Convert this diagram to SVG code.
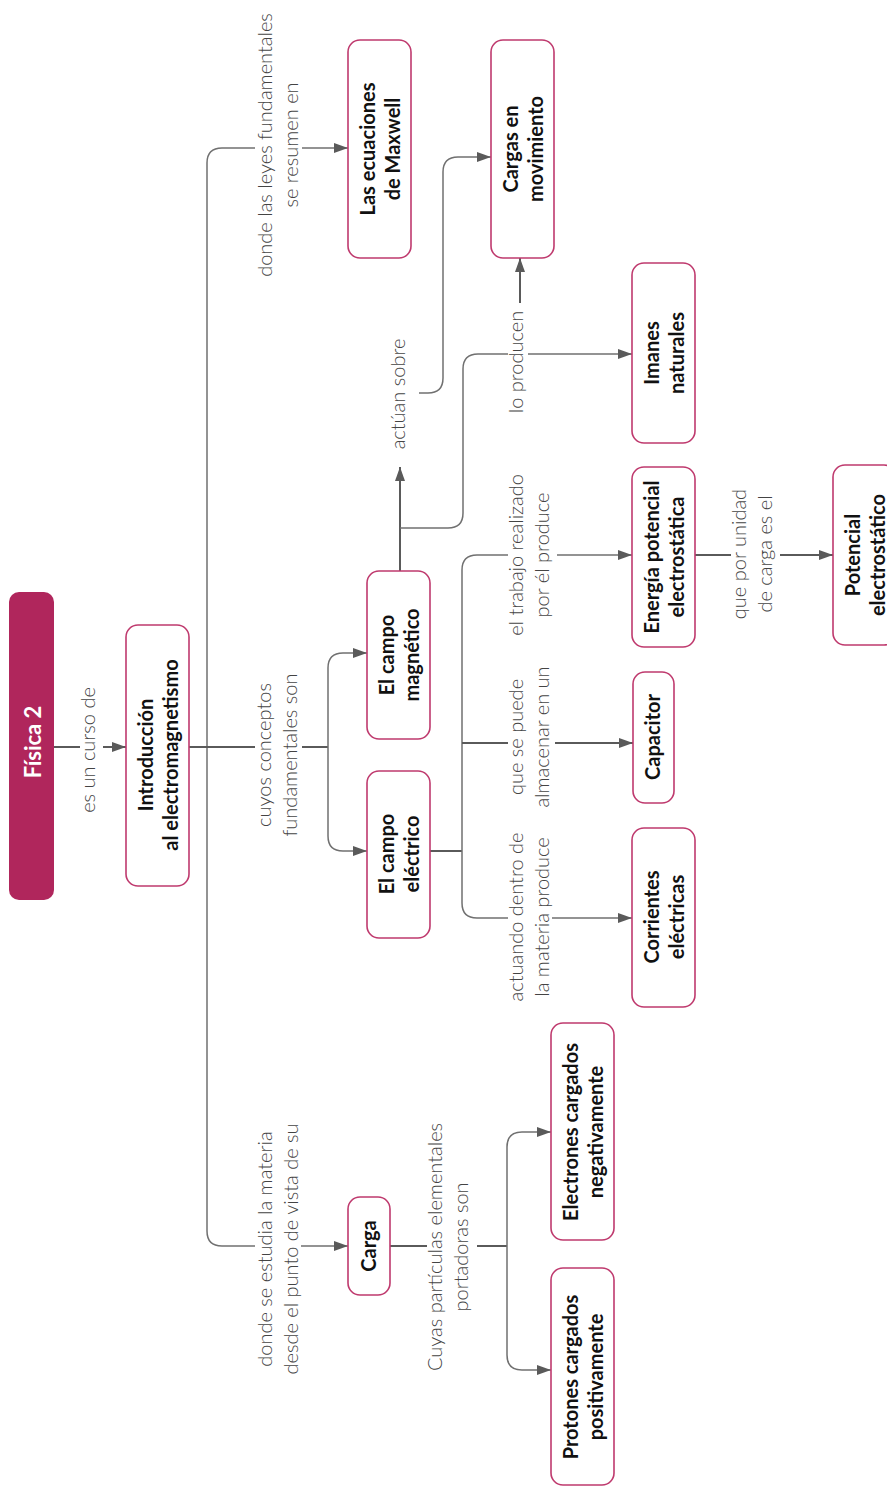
<svg xmlns="http://www.w3.org/2000/svg" width="887" height="1486" viewBox="0 0 887 1486">
<style>
.box{fill:#fff;stroke:#bf3a6e;stroke-width:1.6}
.nt{font-family:Lato,"Liberation Sans",sans-serif;font-weight:700;font-size:20px;fill:#111;text-anchor:middle}
.lb{font-family:Lato,"Liberation Sans",sans-serif;font-weight:300;font-size:20px;fill:#444;text-anchor:middle}
.c{fill:none;stroke:#707070;stroke-width:1.5}
.s{fill:none;stroke:#5a5a5a;stroke-width:2}
</style>
<defs>
<marker id="arr" markerWidth="14" markerHeight="10" refX="14" refY="5" orient="auto" markerUnits="userSpaceOnUse"><path d="M0,0 L14,5 L0,10 z" fill="#5a5a5a"/></marker>
</defs>
<rect width="887" height="1486" fill="#fff"/>
<g id="connectors">
<path class="s" d="M54,747 H80 M103,747 H126" marker-end="url(#arr)"/>
<path class="c" d="M207,747 V163 Q207,148 222,148 H255 M302,148 H348" marker-end="url(#arr)"/>
<path class="c" d="M207,747 V1231 Q207,1246 222,1246 H255 M301,1246 H348" marker-end="url(#arr)"/>
<path class="s" d="M189,747 H255 M302,747 H328"/>
<path class="c" d="M328,747 V668 Q328,653 343,653 H367" marker-end="url(#arr)"/>
<path class="c" d="M328,747 V836 Q328,851 343,851 H367" marker-end="url(#arr)"/>
<path class="s" d="M430,851 H462"/>
<path class="c" d="M462,851 V570 Q462,555 477,555 H508 M557,555 H632" marker-end="url(#arr)"/>
<path class="s" d="M462,743 H508 M555,743 H633" marker-end="url(#arr)"/>
<path class="c" d="M462,851 V903 Q462,918 477,918 H508 M552,918 H632" marker-end="url(#arr)"/>
<path class="s" d="M400,571 V467" marker-end="url(#arr)"/>
<path class="c" d="M419,393 H428 Q443,393 443,378 V172 Q443,157 458,157 H491" marker-end="url(#arr)"/>
<path class="c" d="M400,528 H448 Q463,528 463,513 V369 Q463,354 478,354 H508 M528,354 H632" marker-end="url(#arr)"/>
<path class="s" d="M520,303 V258" marker-end="url(#arr)"/>
<path class="s" d="M695,555 H731 M780,555 H833" marker-end="url(#arr)"/>
<path class="s" d="M390,1246 H427 M477,1246 H507"/>
<path class="c" d="M507,1246 V1147 Q507,1132 522,1132 H551" marker-end="url(#arr)"/>
<path class="c" d="M507,1246 V1355 Q507,1370 522,1370 H551" marker-end="url(#arr)"/>
</g>
<g id="labels">
<text class="lb" transform="translate(95,750) rotate(-90)">es un curso de</text>
<text class="lb" transform="translate(272,145) rotate(-90)"><tspan x="0" y="0">donde las leyes fundamentales</tspan><tspan x="0" y="26">se resumen en</tspan></text>
<text class="lb" transform="translate(271,755) rotate(-90)"><tspan x="0" y="0">cuyos conceptos</tspan><tspan x="0" y="26">fundamentales son</tspan></text>
<text class="lb" transform="translate(272,1249) rotate(-90)"><tspan x="0" y="0">donde se estudia la materia</tspan><tspan x="0" y="26">desde el punto de vista de su</tspan></text>
<text class="lb" transform="translate(442,1247) rotate(-90)"><tspan x="0" y="0">Cuyas partículas elementales</tspan><tspan x="0" y="26">portadoras son</tspan></text>
<text class="lb" transform="translate(405,394) rotate(-90)">actúan sobre</text>
<text class="lb" transform="translate(523,362) rotate(-90)">lo producen</text>
<text class="lb" transform="translate(523,555) rotate(-90)"><tspan x="0" y="0">el trabajo realizado</tspan><tspan x="0" y="26">por él produce</tspan></text>
<text class="lb" transform="translate(523,737) rotate(-90)"><tspan x="0" y="0">que se puede</tspan><tspan x="0" y="26">almacenar en un</tspan></text>
<text class="lb" transform="translate(523,917) rotate(-90)"><tspan x="0" y="0">actuando dentro de</tspan><tspan x="0" y="26">la materia produce</tspan></text>
<text class="lb" transform="translate(746,554) rotate(-90)"><tspan x="0" y="0">que por unidad</tspan><tspan x="0" y="26">de carga es el</tspan></text>
</g>
<g id="fisica2"><rect x="9" y="592" width="45" height="308" rx="10" fill="#b0265c"/><text class="nt" style="fill:#fff;font-size:22px" transform="translate(41,742) rotate(-90)">Física 2</text></g>
<g id="intro"><rect class="box" x="126" y="625" width="63" height="261" rx="12"/><text class="nt" transform="translate(157.5,755) rotate(-90)"><tspan x="0" y="-5">Introducción</tspan><tspan x="0" y="20">al electromagnetismo</tspan></text></g>
<g id="maxwell"><rect class="box" x="348" y="40" width="63" height="218" rx="12"/><text class="nt" transform="translate(379.5,149) rotate(-90)"><tspan x="0" y="-5">Las ecuaciones</tspan><tspan x="0" y="20">de Maxwell</tspan></text></g>
<g id="cargas-movimiento"><rect class="box" x="491" y="40" width="63" height="218" rx="12"/><text class="nt" transform="translate(522.5,149) rotate(-90)"><tspan x="0" y="-5">Cargas en</tspan><tspan x="0" y="20">movimiento</tspan></text></g>
<g id="imanes"><rect class="box" x="632" y="263" width="63" height="180" rx="12"/><text class="nt" transform="translate(663.5,353) rotate(-90)"><tspan x="0" y="-5">Imanes</tspan><tspan x="0" y="20">naturales</tspan></text></g>
<g id="energia"><rect class="box" x="632" y="467" width="63" height="180" rx="12"/><text class="nt" transform="translate(663.5,557) rotate(-90)"><tspan x="0" y="-5">Energía potencial</tspan><tspan x="0" y="20">electrostática</tspan></text></g>
<g id="potencial"><rect class="box" x="833" y="465" width="63" height="180" rx="12"/><text class="nt" transform="translate(864.5,555) rotate(-90)"><tspan x="0" y="-5">Potencial</tspan><tspan x="0" y="20">electrostático</tspan></text></g>
<g id="capacitor"><rect class="box" x="633" y="672" width="41" height="131" rx="12"/><text class="nt" transform="translate(660,737) rotate(-90)">Capacitor</text></g>
<g id="corrientes"><rect class="box" x="632" y="828" width="63" height="179" rx="12"/><text class="nt" transform="translate(663.5,917) rotate(-90)"><tspan x="0" y="-5">Corrientes</tspan><tspan x="0" y="20">eléctricas</tspan></text></g>
<g id="magnetico"><rect class="box" x="367" y="571" width="63" height="168" rx="12"/><text class="nt" transform="translate(398.5,655) rotate(-90)"><tspan x="0" y="-5">El campo</tspan><tspan x="0" y="20">magnético</tspan></text></g>
<g id="electrico"><rect class="box" x="367" y="771" width="63" height="167" rx="12"/><text class="nt" transform="translate(398.5,854) rotate(-90)"><tspan x="0" y="-5">El campo</tspan><tspan x="0" y="20">eléctrico</tspan></text></g>
<g id="carga"><rect class="box" x="348" y="1197" width="42" height="98" rx="12"/><text class="nt" transform="translate(376,1246) rotate(-90)">Carga</text></g>
<g id="electrones"><rect class="box" x="551" y="1023" width="63" height="217" rx="12"/><text class="nt" transform="translate(582.5,1132) rotate(-90)"><tspan x="0" y="-5">Electrones cargados</tspan><tspan x="0" y="20">negativamente</tspan></text></g>
<g id="protones"><rect class="box" x="551" y="1268" width="63" height="217" rx="12"/><text class="nt" transform="translate(582.5,1377) rotate(-90)"><tspan x="0" y="-5">Protones cargados</tspan><tspan x="0" y="20">positivamente</tspan></text></g>
</svg>
